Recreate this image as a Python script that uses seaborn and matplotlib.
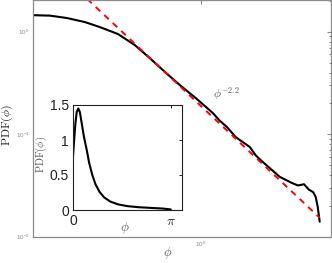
import matplotlib
matplotlib.use("Agg")
import matplotlib.pyplot as plt
import seaborn as sns
import numpy as np
from matplotlib.ticker import LogLocator, NullLocator, NullFormatter, FixedLocator

# ---- data ----
main_phi = [0.200, 0.2355, 0.277, 0.330, 0.380, 0.452, 0.532, 0.614, 0.710, 0.819,
            0.964, 1.125, 1.20, 1.286, 1.40, 1.457, 1.604, 1.70, 1.816, 2.138,
            2.40, 2.55, 2.70, 2.83, 2.95, 3.02, 3.08, 3.14]
main_pdf = [1.45, 1.435, 1.36, 1.24, 1.11, 0.95, 0.74, 0.553, 0.405, 0.302,
            0.221, 0.161, 0.136, 0.118, 0.094, 0.0879, 0.0751, 0.0620, 0.0537, 0.0384,
            0.0335, 0.0316, 0.0325, 0.0288, 0.0272, 0.0245, 0.0196, 0.0140]

fit_phi = [0.30, 3.14]
fit_pdf = [2.69, 0.0153]
fit_label = r"$\phi^{-2.2}$"

inset_phi = [0.0, 0.04, 0.08, 0.12, 0.17, 0.22, 0.28, 0.35, 0.44, 0.52, 0.62, 0.72,
             0.85, 1.0, 1.2, 1.45, 1.75, 2.1, 2.5, 2.9, 3.14]
inset_pdf = [0.76, 1.02, 1.25, 1.40, 1.45, 1.40, 1.24, 1.05, 0.86, 0.67, 0.50, 0.37,
             0.26, 0.18, 0.12, 0.08, 0.055, 0.04, 0.03, 0.02, 0.008]
inset_xticks = [0, np.pi]
inset_xticklabels = ["0", r"$\pi$"]
inset_yticks = [0, 0.5, 1, 1.5]
inset_yticklabels = ["0", "0.5", "1", "1.5"]

sns.set_style("white")
plt.rcParams["font.family"] = ["Liberation Sans", "DejaVu Sans"]
plt.rcParams["mathtext.fontset"] = "cm"

fig = plt.figure(figsize=(3.32, 2.63), dpi=100)
gray = "#8a8a8a"

# ---- main axes ----
ax = fig.add_axes([33 / 332, (263 - 236.7) / 263, 298 / 332, 236.5 / 263])
sns.lineplot(x=main_phi, y=main_pdf, ax=ax, color="black", linewidth=1.5, sort=False)
sns.lineplot(x=fit_phi, y=fit_pdf, ax=ax, color="red", linewidth=1.4,
             linestyle=(0, (3.2, 2.8)))
ax.set_xscale("log")
ax.set_yscale("log")
ax.set_xlim(0.2, 3.5)
ax.set_ylim(0.01, 2.03)
for s in ax.spines.values():
    s.set_color(gray)
    s.set_linewidth(0.9)
ax.xaxis.set_major_locator(FixedLocator([1.0]))
ax.xaxis.set_minor_locator(NullLocator())
ax.yaxis.set_major_locator(FixedLocator([0.01, 0.1, 1.0]))
ax.yaxis.set_minor_locator(LogLocator(base=10, subs=np.arange(2, 10)))
ax.yaxis.set_minor_formatter(NullFormatter())
ax.tick_params(which="both", direction="in", colors=gray, top=True, right=True,
               labelsize=4.5, length=3, width=0.8, pad=2.5)
ax.tick_params(which="minor", length=1.8)
ax.set_xlabel(r"$\phi$", fontsize=9, color="#555555", va="center")
ax.xaxis.set_label_coords(0.453, -0.069)
ax.set_ylabel(r"$\mathrm{PDF}(\phi)$", fontsize=8.5, color="#222222", va="center")
ax.yaxis.set_label_coords(-0.086, 0.47)
ax.text(0.605, 0.606, fit_label, transform=ax.transAxes, fontsize=8.5,
        color="#555555", ha="left", va="center")

# ---- inset axes ----
ax2 = fig.add_axes([73 / 332, (263 - 210) / 263, 109 / 332, 105 / 263])
sns.lineplot(x=inset_phi, y=inset_pdf, ax=ax2, color="black", linewidth=1.5, sort=False)
ax2.set_xlim(0, 3.5)
ax2.set_ylim(0, 1.5)
ax2.set_xticks(inset_xticks)
ax2.set_xticklabels(inset_xticklabels)
ax2.set_yticks(inset_yticks)
ax2.set_yticklabels(inset_yticklabels)
for s in ax2.spines.values():
    s.set_color("#222222")
    s.set_linewidth(0.8)
ax2.tick_params(direction="in", top=True, right=True, labelsize=10, length=2.5,
                width=0.7, colors="#222222", pad=3)
ax2.set_xlabel(r"$\phi$", fontsize=9.5, color="#555555", va="center")
ax2.xaxis.set_label_coords(0.477, -0.171)
ax2.set_ylabel(r"$\mathrm{PDF}(\phi)$", fontsize=7.5, color="#555555", va="center")
ax2.yaxis.set_label_coords(-0.29, 0.53)

fig.savefig("out.png", dpi=100)
